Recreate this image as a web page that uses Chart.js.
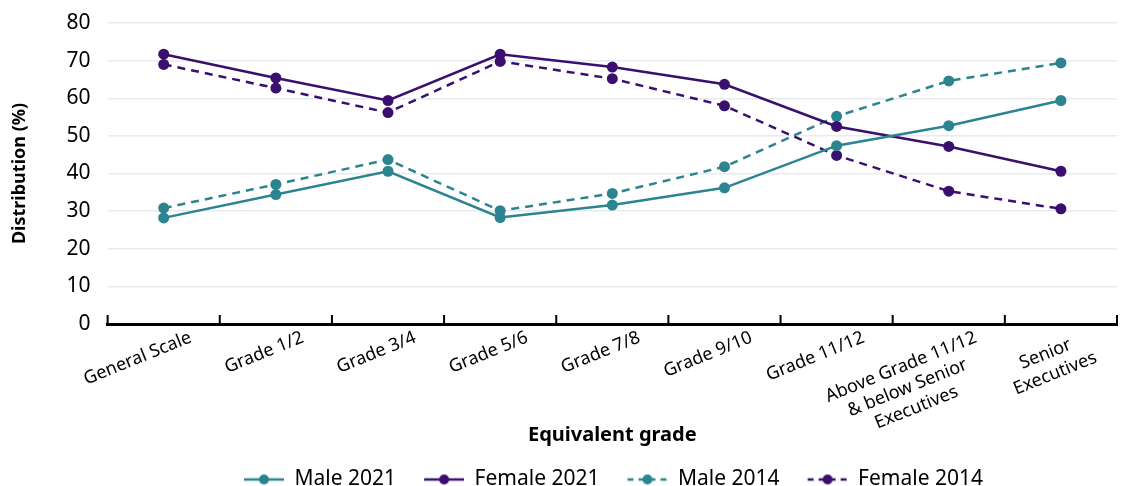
<!DOCTYPE html>
<html>
<head>
<meta charset="utf-8">
<script src="https://cdn.jsdelivr.net/npm/chart.js@4.4.1/dist/chart.umd.min.js"></script>
<style>
  html, body { margin: 0; padding: 0; background: #fff; }
  #wrap { width: 1125px; height: 486px; }
</style>
</head>
<body>
<div id="wrap"><canvas id="chart" width="1125" height="486"></canvas></div>
<script>
// chart values
const grades = [
    'General Scale', 'Grade 1/2', 'Grade 3/4', 'Grade 5/6', 'Grade 7/8',
    'Grade 9/10', 'Grade 11/12',
    ['Above Grade 11/12', '& below Senior', 'Executives'],
    ['Senior', 'Executives']
];
const male2021   = [28.2, 34.4, 40.6, 28.3, 31.6, 36.2, 47.4, 52.7, 59.4];
const female2021 = [71.7, 65.4, 59.4, 71.7, 68.3, 63.7, 52.5, 47.2, 40.6];
const male2014   = [30.8, 37.1, 43.7, 30.1, 34.7, 41.8, 55.2, 64.6, 69.4];
const female2014 = [69.0, 62.7, 56.2, 69.8, 65.2, 58.0, 44.8, 35.3, 30.6];

const TEAL = '#2c8490';
const PURPLE = '#3a0f6e';
const FONT = "'Noto Sans', sans-serif";
const TICK_SIZE = 18;

// legend swatch: transparent gap on the left, then a line with a dot
const GAP = 28;
function swatch(color, dashed) {
    let c = document.createElement('canvas');
    c.width = GAP + 40; c.height = 14;
    let g = c.getContext('2d');
    g.strokeStyle = color;
    g.lineWidth = 2.5;
    if (dashed) g.setLineDash([6, 5]);
    g.beginPath();
    g.moveTo(GAP, 7); g.lineTo(GAP + 40, 7);
    g.stroke();
    g.fillStyle = color;
    g.beginPath();
    g.arc(GAP + 20, 7, 5, 0, Math.PI * 2);
    g.fill();
    return c;
}
const swatches = [
    swatch(TEAL, false), swatch(PURPLE, false),
    swatch(TEAL, true), swatch(PURPLE, true)
];

// rotated labels are right aligned by Chart.js, pad short lines so they look centred
const measure = document.createElement('canvas').getContext('2d');
measure.font = TICK_SIZE + "px 'Noto Sans', sans-serif";
function centreLines(label) {
    if (!Array.isArray(label)) return label;
    let widths = label.map(s => measure.measureText(s).width);
    let maxW = Math.max(...widths);
    let sp = measure.measureText(' ').width;
    return label.map((s, i) => s + ' '.repeat(Math.round((maxW - widths[i]) / 2 / sp)));
}

function series(label, data, color, dashed) {
    return {
        label: label,
        data: data,
        borderColor: color,
        backgroundColor: color,
        borderWidth: 2.5,
        borderDash: dashed ? [8, 6] : [],
        pointRadius: 5.5,
        pointHoverRadius: 5.5,
        pointBorderWidth: 0,
        tension: 0
    };
}

// tick marks at category boundaries, pointing up from the axis line
const innerTicks = {
    id: 'innerTicks',
    afterDraw(chart) {
        const x = chart.scales.x;
        const ctx = chart.ctx;
        const n = grades.length;
        ctx.save();
        ctx.strokeStyle = '#000';
        ctx.lineWidth = 2;
        for (let i = 0; i <= n; i++) {
            let px = x.left + i * (x.width / n);
            ctx.beginPath();
            ctx.moveTo(px, x.top);
            ctx.lineTo(px, x.top - 9);
            ctx.stroke();
        }
        ctx.restore();
    }
};

// nudge the legend row so it sits under the plot like the original
const legendShift = {
    id: 'legendShift',
    afterLayout(chart) {
        chart.legend.left += 39;
        chart.legend.right += 39;
    }
};

new Chart(document.getElementById('chart'), {
    type: 'line',
    data: {
        labels: grades,
        datasets: [
            series('Male 2021', male2021, TEAL, false),
            series('Female 2021', female2021, PURPLE, false),
            series('Male 2014', male2014, TEAL, true),
            series('Female 2014', female2014, PURPLE, true)
        ]
    },
    options: {
        responsive: false,
        animation: false,
        layout: { padding: { top: 0, right: 8, left: 4, bottom: -14 } },
        scales: {
            x: {
                offset: true,
                grid: { display: false, drawTicks: false },
                border: { display: true, color: '#000', width: 3 },
                afterFit: function (scale) { scale.height = 145; },
                ticks: {
                    autoSkip: false,
                    color: '#000',
                    font: { family: FONT, size: TICK_SIZE },
                    maxRotation: 22,
                    minRotation: 22,
                    labelOffset: 27,
                    padding: 3,
                    callback: function (value, index) {
                        return centreLines(grades[index]);
                    }
                },
                title: {
                    display: true,
                    text: 'Equivalent grade',
                    color: '#000',
                    font: { family: FONT, size: 20, weight: 'bold' },
                    padding: { top: 10, bottom: 22 }
                }
            },
            y: {
                min: 0,
                max: 80,
                // tick padding would otherwise push the top of the plot down too
                afterFit: function (scale) { scale.paddingTop = 23; },
                ticks: {
                    stepSize: 10,
                    color: '#000',
                    font: { family: FONT, size: 21 },
                    padding: 17
                },
                grid: { color: '#e6ebef', lineWidth: 1.5, drawTicks: false },
                border: { display: false },
                title: {
                    display: true,
                    text: 'Distribution (%)',
                    color: '#000',
                    font: { family: FONT, size: 18, weight: 'bold' },
                    padding: { top: 5, bottom: 19 }
                }
            }
        },
        plugins: {
            legend: {
                position: 'bottom',
                labels: {
                    usePointStyle: true,
                    pointStyleWidth: GAP + 40,
                    color: '#000',
                    font: { family: FONT, size: 21 },
                    padding: 0,
                    generateLabels: function (chart) {
                        let items = Chart.defaults.plugins.legend.labels.generateLabels(chart);
                        items.forEach((it, i) => { it.pointStyle = swatches[i]; });
                        return items;
                    }
                }
            },
            tooltip: { enabled: false }
        }
    },
    plugins: [innerTicks, legendShift]
});
</script>
</body>
</html>
